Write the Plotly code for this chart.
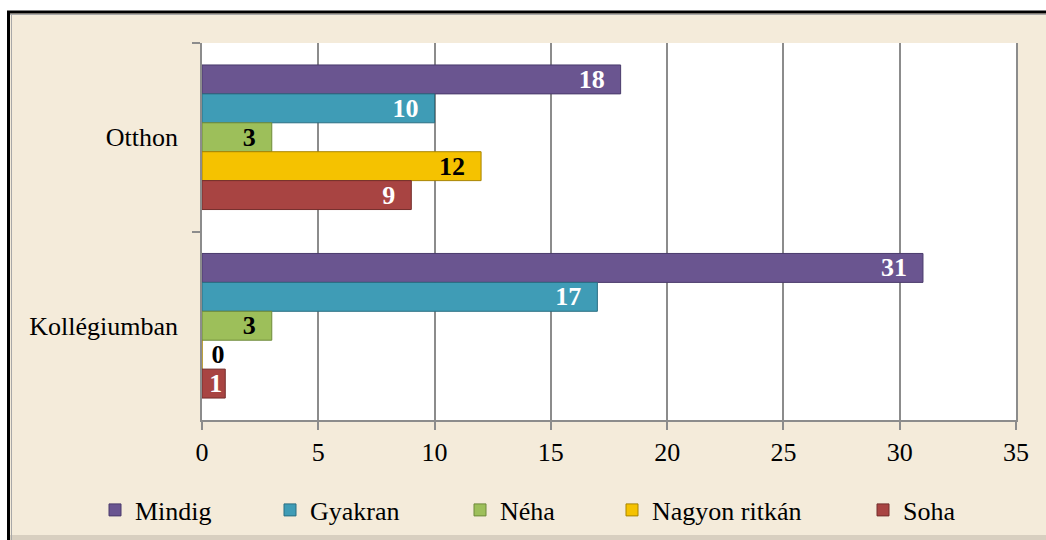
import plotly.graph_objects as go

categories = ["Otthon", "Kollégiumban"]
series_names = ["Mindig", "Gyakran", "Néha", "Nagyon ritkán", "Soha"]
mindig = [18, 31]
gyakran = [10, 17]
neha = [3, 3]
nagyon_ritkan = [12, 0]
soha = [9, 1]
x_ticks = [0, 5, 10, 15, 20, 25, 30, 35]

values = [mindig, gyakran, neha, nagyon_ritkan, soha]

# styling
fills = ["#6A5590", "#3F9CB6", "#9DBF5A", "#F5C200", "#A84442"]
edges = ["#4A3B6C", "#2A6E82", "#6E8A3A", "#A88400", "#742E2C"]
label_colors = ["white", "white", "black", "black", "white"]
legend_widths = [130, 145, 107, 206, 60]

W, H = 1046, 540
ML, MR, MT, MB = 202, 30, 43, 120
PW, PH = W - ML - MR, H - MT - MB


def px_x(p):
    return (p - ML) / PW


def px_y(p):
    return (H - MB - p) / PH


serif = "Liberation Serif"

fig = go.Figure()
for name, vals, fc, ec, lc, lw in zip(series_names, values, fills, edges,
                                      label_colors, legend_widths):
    positions = ["outside" if v == 0 else "inside" for v in vals]
    templates = []
    for v in vals:
        if v == 0:
            templates.append("\u00a0%{x}")
        elif v < 2:
            templates.append("%{x}")
        else:
            templates.append("%{x}\u00a0\u00a0")
    fig.add_trace(go.Bar(
        name=name,
        y=categories,
        x=vals,
        orientation="h",
        marker=dict(color=fc, line=dict(color=ec, width=1)),
        text=vals,
        texttemplate=templates,
        textposition=positions,
        insidetextanchor="end",
        textangle=0,
        textfont=dict(family=serif, size=26, color=lc, weight="bold"),
        outsidetextfont=dict(family=serif, size=26, color="black", weight="bold"),
        constraintext="none",
        cliponaxis=False,
        hoverinfo="skip",
        legendwidth=lw,
    ))

shapes = [
    # white outer margin (left and top)
    dict(type="rect", xref="paper", yref="paper",
         x0=px_x(-20), x1=px_x(7), y0=px_y(H + 20), y1=px_y(-20),
         fillcolor="white", line=dict(width=0), layer="above"),
    dict(type="rect", xref="paper", yref="paper",
         x0=px_x(-20), x1=px_x(W + 20), y0=px_y(11), y1=px_y(-20),
         fillcolor="white", line=dict(width=0), layer="above"),
    # bottom shading
    dict(type="rect", xref="paper", yref="paper",
         x0=px_x(10), x1=px_x(W + 20), y0=px_y(H + 5), y1=px_y(535),
         fillcolor="rgba(120,110,100,0.22)", line=dict(width=0), layer="above"),
    # black frame
    dict(type="rect", xref="paper", yref="paper",
         x0=px_x(8.5), x1=px_x(W + 30), y0=px_y(H + 30), y1=px_y(12),
         fillcolor="rgba(0,0,0,0)", line=dict(color="black", width=3),
         layer="above"),
    dict(type="line", xref="paper", yref="paper",
         x0=px_x(10), x1=px_x(W + 30), y0=px_y(14.5), y1=px_y(14.5),
         line=dict(color="#A8A8A8", width=1), layer="above"),
    dict(type="line", xref="paper", yref="paper",
         x0=px_x(11.5), x1=px_x(11.5), y0=px_y(14), y1=px_y(H + 30),
         line=dict(color="#A8A8A8", width=1), layer="above"),
]

fig.update_layout(
    width=W, height=H,
    margin=dict(l=ML, r=MR, t=MT, b=MB, pad=0, autoexpand=False),
    paper_bgcolor="#F4EBDA",
    plot_bgcolor="white",
    barmode="group",
    bargap=0.233,
    bargroupgap=0.0,
    font=dict(family=serif, size=26, color="black"),
    showlegend=True,
    legend=dict(
        orientation="h",
        x=px_x(95), xanchor="left",
        y=px_y(510), yanchor="middle",
        font=dict(family=serif, size=26, color="black"),
        bgcolor="rgba(0,0,0,0)",
        traceorder="normal",
        itemclick=False,
    ),
    xaxis=dict(
        range=[0, 35],
        tickvals=x_ticks,
        showgrid=True, gridcolor="#8C8C8C", gridwidth=1.5,
        showline=True, linecolor="#8C8C8C", linewidth=1.5,
        ticks="outside", ticklen=8, tickcolor="#8C8C8C", tickwidth=1.5,
        zeroline=False,
        tickfont=dict(family=serif, size=26, color="black"),
        ticklabelstandoff=0,
        fixedrange=True,
    ),
    yaxis=dict(
        type="category",
        categoryorder="array", categoryarray=categories,
        autorange="reversed",
        tickson="boundaries",
        ticks="outside", ticklen=8, tickcolor="#8C8C8C", tickwidth=1.5,
        showline=True, linecolor="#8C8C8C", linewidth=1.5,
        mirror=True,
        showgrid=False,
        tickfont=dict(family=serif, size=26, color="black"),
        ticklabelstandoff=17,
        fixedrange=True,
    ),
    shapes=shapes,
)

fig.write_html(
    "out.html",
    config=dict(displayModeBar=False),
    post_script="document.body.style.margin='0';document.body.style.overflow='hidden';",
)
